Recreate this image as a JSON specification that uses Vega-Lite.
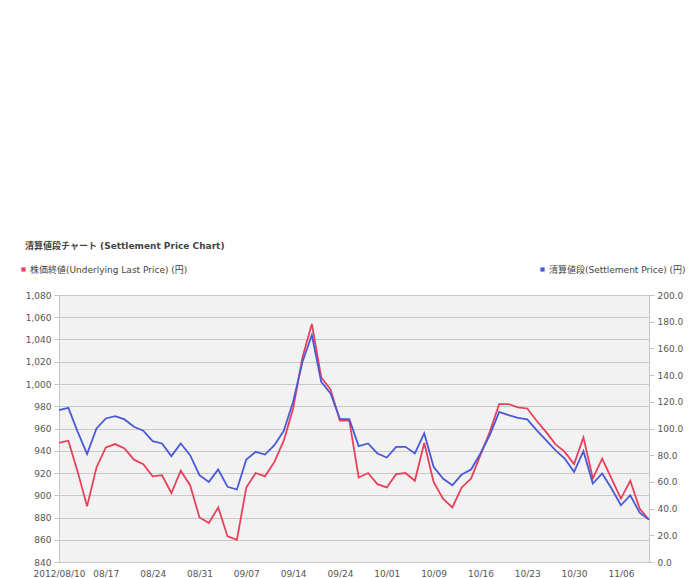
{
  "$schema": "https://vega.github.io/schema/vega-lite/v6.json",
  "autosize": {"type": "none"},
  "width": 590,
  "height": 267,
  "padding": {"left": 59, "top": 295, "right": 40, "bottom": 16},
  "background": "white",
  "title": {
    "text": "清算値段チャート (Settlement Price Chart)",
    "anchor": "start",
    "frame": "group",
    "dx": -34,
    "offset": 14,
    "font": "DejaVu Sans, Noto Sans CJK JP",
    "fontSize": 9,
    "fontWeight": "bold",
    "color": "#444"
  },
  "config": {
    "view": {"fill": "#f2f2f2", "stroke": "#c4c4c4"},
    "font": "DejaVu Sans, Noto Sans CJK JP",
    "axis": {"labelFont": "DejaVu Sans", "labelFontSize": 9, "labelColor": "#555", "domainColor": "#c4c4c4", "tickColor": "#c4c4c4"},
    "legend": {"labelFont": "DejaVu Sans, Noto Sans CJK JP", "labelFontSize": 9, "labelColor": "#444", "labelLimit": 400}
  },
  "data": {
    "values": [
      {"date": "2012/08/10", "underlying": 947, "settlement": 113.8},
      {"date": "2012/08/13", "underlying": 949, "settlement": 115.5},
      {"date": "2012/08/14", "underlying": 921, "settlement": 97.5},
      {"date": "2012/08/15", "underlying": 890, "settlement": 80.8},
      {"date": "2012/08/16", "underlying": 925, "settlement": 100.0},
      {"date": "2012/08/17", "underlying": 943, "settlement": 107.5},
      {"date": "2012/08/20", "underlying": 946, "settlement": 109.3},
      {"date": "2012/08/21", "underlying": 942, "settlement": 106.8},
      {"date": "2012/08/22", "underlying": 932, "settlement": 101.3},
      {"date": "2012/08/23", "underlying": 928, "settlement": 98.3},
      {"date": "2012/08/24", "underlying": 917, "settlement": 90.5},
      {"date": "2012/08/27", "underlying": 918, "settlement": 88.8},
      {"date": "2012/08/28", "underlying": 902, "settlement": 79.3},
      {"date": "2012/08/29", "underlying": 922, "settlement": 88.8},
      {"date": "2012/08/30", "underlying": 909, "settlement": 80.0},
      {"date": "2012/08/31", "underlying": 880, "settlement": 65.0},
      {"date": "2012/09/03", "underlying": 875, "settlement": 60.0},
      {"date": "2012/09/04", "underlying": 889, "settlement": 69.3},
      {"date": "2012/09/05", "underlying": 863, "settlement": 56.3},
      {"date": "2012/09/06", "underlying": 860, "settlement": 54.3},
      {"date": "2012/09/07", "underlying": 907, "settlement": 76.8},
      {"date": "2012/09/10", "underlying": 920, "settlement": 82.5},
      {"date": "2012/09/11", "underlying": 917, "settlement": 80.5},
      {"date": "2012/09/12", "underlying": 930, "settlement": 87.5},
      {"date": "2012/09/13", "underlying": 949, "settlement": 98.3},
      {"date": "2012/09/14", "underlying": 978, "settlement": 120.0},
      {"date": "2012/09/18", "underlying": 1024, "settlement": 150.0},
      {"date": "2012/09/19", "underlying": 1054, "settlement": 170.0},
      {"date": "2012/09/20", "underlying": 1006, "settlement": 135.0},
      {"date": "2012/09/21", "underlying": 995, "settlement": 126.3},
      {"date": "2012/09/24", "underlying": 967, "settlement": 107.0},
      {"date": "2012/09/25", "underlying": 967, "settlement": 107.0},
      {"date": "2012/09/26", "underlying": 916, "settlement": 86.8},
      {"date": "2012/09/27", "underlying": 920, "settlement": 88.8},
      {"date": "2012/09/28", "underlying": 910, "settlement": 81.3},
      {"date": "2012/10/01", "underlying": 907, "settlement": 78.3},
      {"date": "2012/10/02", "underlying": 919, "settlement": 86.3},
      {"date": "2012/10/03", "underlying": 920, "settlement": 86.3},
      {"date": "2012/10/04", "underlying": 913, "settlement": 81.3},
      {"date": "2012/10/05", "underlying": 947, "settlement": 96.3},
      {"date": "2012/10/09", "underlying": 912, "settlement": 71.3},
      {"date": "2012/10/10", "underlying": 897, "settlement": 62.5},
      {"date": "2012/10/11", "underlying": 889, "settlement": 57.5},
      {"date": "2012/10/12", "underlying": 907, "settlement": 65.5},
      {"date": "2012/10/15", "underlying": 915, "settlement": 69.3},
      {"date": "2012/10/16", "underlying": 936, "settlement": 81.3},
      {"date": "2012/10/17", "underlying": 957, "settlement": 95.0},
      {"date": "2012/10/18", "underlying": 982, "settlement": 112.5},
      {"date": "2012/10/19", "underlying": 982, "settlement": 110.0},
      {"date": "2012/10/22", "underlying": 979, "settlement": 108.0},
      {"date": "2012/10/23", "underlying": 978, "settlement": 106.8},
      {"date": "2012/10/24", "underlying": 967, "settlement": 98.8},
      {"date": "2012/10/25", "underlying": 957, "settlement": 91.3},
      {"date": "2012/10/26", "underlying": 946, "settlement": 83.8},
      {"date": "2012/10/29", "underlying": 939, "settlement": 77.5},
      {"date": "2012/10/30", "underlying": 928, "settlement": 67.5},
      {"date": "2012/10/31", "underlying": 952, "settlement": 83.0},
      {"date": "2012/11/01", "underlying": 915, "settlement": 58.8},
      {"date": "2012/11/02", "underlying": 933, "settlement": 66.3},
      {"date": "2012/11/05", "underlying": 915, "settlement": 55.0},
      {"date": "2012/11/06", "underlying": 897, "settlement": 42.5},
      {"date": "2012/11/07", "underlying": 913, "settlement": 50.0},
      {"date": "2012/11/08", "underlying": 888, "settlement": 37.0},
      {"date": "2012/11/09", "underlying": 878, "settlement": 31.8}
    ]
  },
  "encoding": {
    "x": {
      "field": "date",
      "type": "ordinal",
      "sort": null,
      "scale": {"type": "point", "padding": 0},
      "axis": {
        "title": null,
        "labelAngle": 0,
        "ticks": false,
        "domain": false,
        "grid": false,
        "labelPadding": 7,
        "labelOverlap": false,
        "values": ["2012/08/10", "2012/08/17", "2012/08/24", "2012/08/31", "2012/09/07", "2012/09/14", "2012/09/24", "2012/10/01", "2012/10/09", "2012/10/16", "2012/10/23", "2012/10/30", "2012/11/06"],
        "labelExpr": "datum.value == '2012/08/10' ? datum.value : slice(datum.value, 5)"
      }
    }
  },
  "layer": [
    {
      "mark": {"type": "line", "strokeWidth": 1.8},
      "encoding": {
        "y": {
          "field": "underlying",
          "type": "quantitative",
          "scale": {"domain": [840, 1080], "nice": false, "zero": false},
          "axis": {"title": null, "values": [840, 860, 880, 900, 920, 940, 960, 980, 1000, 1020, 1040, 1060, 1080], "format": ",d", "grid": true, "gridColor": "#c8c8c8", "domain": false, "tickSize": 5, "labelPadding": 3}
        },
        "color": {
          "datum": "株価終値(Underlying Last Price) (円)",
          "scale": {"range": ["#e8405a"]},
          "legend": {"title": null, "orient": "none", "legendX": -40, "legendY": -30, "symbolType": "square", "symbolSize": 18, "symbolFillColor": "#e8405a", "symbolStrokeWidth": 0, "labelOffset": 2}
        }
      }
    },
    {
      "mark": {"type": "line", "strokeWidth": 1.8},
      "encoding": {
        "y": {
          "field": "settlement",
          "type": "quantitative",
          "scale": {"domain": [0, 200], "nice": false},
          "axis": {"title": null, "orient": "right", "values": [0, 20, 40, 60, 80, 100, 120, 140, 160, 180, 200], "format": ".1f", "grid": false, "domain": true, "tickSize": 5, "labelPadding": 3}
        },
        "color": {
          "datum": "清算値段(Settlement Price) (円)",
          "scale": {"range": ["#4a5ad6"]},
          "legend": {"title": null, "orient": "none", "legendX": 479, "legendY": -30, "symbolType": "square", "symbolSize": 18, "symbolFillColor": "#4a5ad6", "symbolStrokeWidth": 0, "labelOffset": 2}
        }
      }
    }
  ],
  "resolve": {"scale": {"y": "independent", "color": "independent"}}
}
